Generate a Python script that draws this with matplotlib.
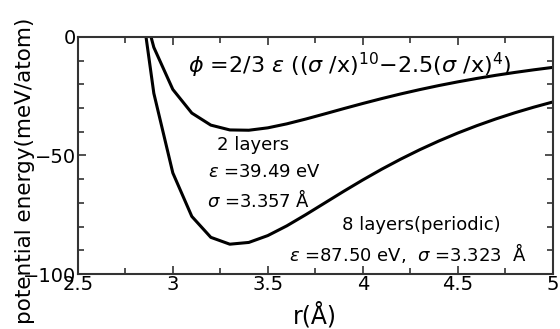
import matplotlib
matplotlib.use("Agg")
import matplotlib.pyplot as plt
from matplotlib.ticker import MultipleLocator

# r (Angstrom) sampled every 0.1
r = [2.8, 2.9, 3.0, 3.1, 3.2, 3.3, 3.4, 3.5, 3.6, 3.7, 3.8, 3.9, 4.0,
     4.1, 4.2, 4.3, 4.4, 4.5, 4.6, 4.7, 4.8, 4.9, 5.0]

# 2 layers (eps=39.49, sigma=3.357)
e_2layers = [25.57, -4.43, -22.16, -32.13, -37.21, -39.24, -39.37, -38.36,
             -36.68, -34.65, -32.47, -30.25, -28.09, -26.02, -24.06, -22.24,
             -20.54, -18.98, -17.54, -16.22, -15.01, -13.90, -12.88]

# 8 layers periodic (eps=87.50, sigma=3.323)
e_8layers = [34.04, -23.78, -57.35, -75.70, -84.52, -87.41, -86.67, -83.78,
             -79.68, -74.96, -70.03, -65.10, -60.33, -55.79, -51.54, -47.58,
             -43.92, -40.55, -37.46, -34.62, -32.02, -29.65, -27.47]

plt.rcParams["font.family"] = "DejaVu Sans"
plt.rcParams["mathtext.fontset"] = "dejavusans"

fig = plt.figure(figsize=(5.6, 3.29), dpi=100)
ax = fig.add_axes([0.139, 0.167, 0.848, 0.721])

ax.plot(r, e_2layers, color="black", linewidth=2.2)
ax.plot(r, e_8layers, color="black", linewidth=2.2)

ax.set_xlim(2.5, 5)
ax.set_ylim(-100, 0)
ax.set_xticks([2.5, 3, 3.5, 4, 4.5, 5])
ax.set_xticklabels(["2.5", "3", "3.5", "4", "4.5", "5"])
ax.xaxis.set_minor_locator(MultipleLocator(0.25))
ax.yaxis.set_major_locator(MultipleLocator(50))
ax.yaxis.set_minor_locator(MultipleLocator(10))
ax.tick_params(which="both", direction="in", top=True, right=True,
               width=1.2, color="#333333")
ax.tick_params(which="major", length=6, labelsize=14, pad=1)
ax.tick_params(which="minor", length=4)
for s in ax.spines.values():
    s.set_linewidth(1.5)
    s.set_color("#333333")

ax.set_xlabel("r(Å)", fontsize=17)
ax.xaxis.set_label_coords(0.5, -0.118)
ax.set_ylabel("potential energy(meV/atom)", fontsize=15.5)
ax.yaxis.set_label_coords(-0.09, 0.435)

ax.text(3.08, -12.2,
        r"$\phi$ =2/3 $\varepsilon$ (($\sigma$ /x)$^{10}$$-$2.5($\sigma$ /x)$^{4}$)",
        fontsize=16, ha="left", va="center")
ax.text(3.42, -45.6, "2 layers", fontsize=13, ha="center", va="center")
ax.text(3.185, -57, r"$\varepsilon$ =39.49 eV", fontsize=13, ha="left", va="center")
ax.text(3.18, -68.8, r"$\sigma$ =3.357 Å", fontsize=13, ha="left", va="center")
ax.text(4.307, -79.3, "8 layers(periodic)", fontsize=13, ha="center", va="center")
ax.text(3.61, -91.1, r"$\varepsilon$ =87.50 eV,  $\sigma$ =3.323  Å",
        fontsize=13, ha="left", va="center")

fig.savefig("out.png", dpi=100)
